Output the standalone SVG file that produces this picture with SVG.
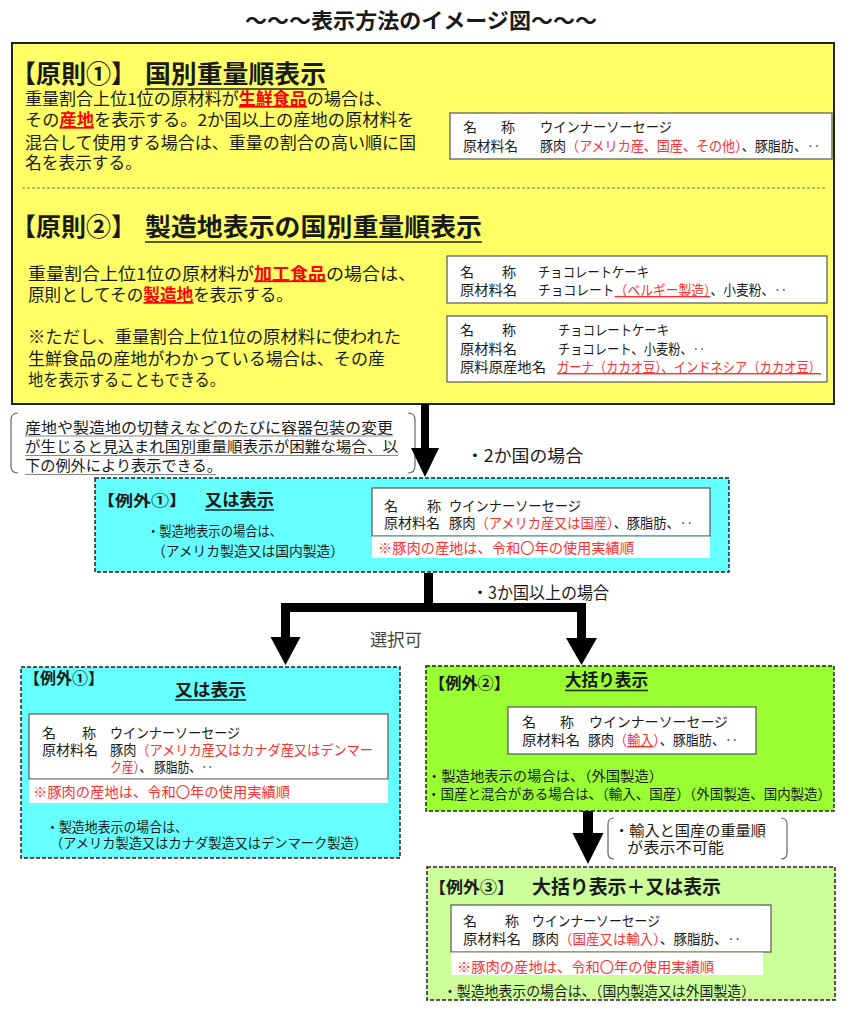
<svg xmlns="http://www.w3.org/2000/svg" width="859" height="1024" viewBox="0 0 859 1024">
<style>
text{font-family:"Noto Sans CJK JP","Noto Sans CJK SC",sans-serif;fill:#1a1a1a}
.t{font-size:21px;font-weight:bold}
.h{font-size:25px;font-weight:bold}
.b{font-size:16.5px}
.s{font-size:14px}
.n{font-size:15px}
.m{font-size:17px}
.hl{fill:#ff0000;font-weight:bold;text-decoration:underline}
.r{fill:#ff3030}
.ru{fill:#ff3030;text-decoration:underline}
.bold{font-weight:bold}
.wbox{fill:#fff;stroke:#555;stroke-width:1.2}
.strip{fill:#fff}
.dash{stroke:#222;stroke-width:1.5;stroke-dasharray:4 2}
.ul{stroke:#222;stroke-width:1.5}
.gul{stroke:#888;stroke-width:1}
.brk{fill:none;stroke:#666;stroke-width:1.2}
.arrow{fill:#000}
</style>

<text class="t" x="245" y="28" textLength="352" lengthAdjust="spacingAndGlyphs">～～～表示方法のイメージ図～～～</text>

<g id="principles">
<rect x="12" y="43" width="822" height="361" fill="#ffff66" stroke="#222" stroke-width="2"/>
<g id="principle1">
<text class="h" x="11" y="83" textLength="125" lengthAdjust="spacingAndGlyphs">【原則①】</text>
<text class="h" x="145" y="83" textLength="181" lengthAdjust="spacingAndGlyphs">国別重量順表示</text>
<line class="ul" x1="145" y1="89" x2="327" y2="89"/>
<text class="b" x="25" y="105" textLength="367" lengthAdjust="spacingAndGlyphs">重量割合上位1位の原材料が<tspan class="hl">生鮮食品</tspan>の場合は、</text>
<text class="b" x="25" y="126" textLength="389" lengthAdjust="spacingAndGlyphs">その<tspan class="hl">産地</tspan>を表示する。2か国以上の産地の原材料を</text>
<text class="b" x="25" y="148.5" textLength="391" lengthAdjust="spacingAndGlyphs">混合して使用する場合は、重量の割合の高い順に国</text>
<text class="b" x="25" y="169" textLength="117" lengthAdjust="spacingAndGlyphs">名を表示する。</text>
<rect class="wbox" x="450" y="113" width="382" height="46"/>
<text class="s" x="463" y="132">名</text>
<text class="s" x="501" y="132">称</text>
<text class="s" x="540" y="132" textLength="132" lengthAdjust="spacingAndGlyphs">ウインナーソーセージ</text>
<text class="s" x="463" y="151" textLength="55" lengthAdjust="spacingAndGlyphs">原材料名</text>
<text class="s" x="540" y="151" textLength="280" lengthAdjust="spacingAndGlyphs">豚肉<tspan class="r">（アメリカ産、国産、その他）</tspan>、豚脂肪、‥</text>
</g>
<line x1="22" y1="188" x2="825" y2="188" stroke="#777" stroke-width="1" stroke-dasharray="3 2"/>
<g id="principle2">
<text class="h" x="11" y="236" textLength="125" lengthAdjust="spacingAndGlyphs">【原則②】</text>
<text class="h" x="145" y="236" textLength="337" lengthAdjust="spacingAndGlyphs">製造地表示の国別重量順表示</text>
<line class="ul" x1="145" y1="242" x2="482" y2="242"/>
<text class="b" x="28" y="279.5" textLength="388" lengthAdjust="spacingAndGlyphs">重量割合上位1位の原材料が<tspan class="hl">加工食品</tspan>の場合は、</text>
<text class="b" x="28" y="301" textLength="265" lengthAdjust="spacingAndGlyphs">原則としてその<tspan class="hl">製造地</tspan>を表示する。</text>
<text class="b" x="28" y="343" textLength="373" lengthAdjust="spacingAndGlyphs">※ただし、重量割合上位1位の原材料に使われた</text>
<text class="b" x="28" y="364.5" textLength="357" lengthAdjust="spacingAndGlyphs">生鮮食品の産地がわかっている場合は、その産</text>
<text class="b" x="28" y="386" textLength="197" lengthAdjust="spacingAndGlyphs">地を表示することもできる。</text>
<rect class="wbox" x="447" y="256" width="380" height="47"/>
<text class="s" x="460" y="277">名</text>
<text class="s" x="502" y="277">称</text>
<text class="s" x="538" y="277" textLength="111" lengthAdjust="spacingAndGlyphs">チョコレートケーキ</text>
<text class="s" x="460" y="295" textLength="57" lengthAdjust="spacingAndGlyphs">原材料名</text>
<text class="s" x="538" y="295" textLength="249" lengthAdjust="spacingAndGlyphs">チョコレート<tspan class="ru">（ベルギー製造）</tspan>、小麦粉、‥</text>
<rect class="wbox" x="447" y="316" width="380" height="66"/>
<text class="s" x="460" y="335">名</text>
<text class="s" x="502" y="335">称</text>
<text class="s" x="558" y="335" textLength="111" lengthAdjust="spacingAndGlyphs">チョコレートケーキ</text>
<text class="s" x="460" y="354" textLength="57" lengthAdjust="spacingAndGlyphs">原材料名</text>
<text class="s" x="558" y="354" textLength="147" lengthAdjust="spacingAndGlyphs">チョコレート、小麦粉、‥</text>
<text class="s" x="460" y="372" textLength="86" lengthAdjust="spacingAndGlyphs">原料原産地名</text>
<text class="s ru" x="557" y="372" textLength="264" lengthAdjust="spacingAndGlyphs">ガーナ（カカオ豆）、インドネシア（カカオ豆）</text>
</g>
</g>

<g id="note1">
<path class="brk" d="M18,413 Q11,413 11,420 V466 Q11,473 18,473"/>
<path class="brk" d="M408,413 Q415,413 415,420 V466 Q415,473 408,473"/>
<text class="n" x="25" y="432.5" textLength="368" lengthAdjust="spacingAndGlyphs" fill="#333">産地や製造地の切替えなどのたびに容器包装の変更</text>
<text class="n" x="25" y="452" textLength="373" lengthAdjust="spacingAndGlyphs">が生じると見込まれ国別重量順表示が困難な場合、以</text>
<text class="n" x="25" y="471" textLength="197" lengthAdjust="spacingAndGlyphs">下の例外により表示できる。</text>
<line class="gul" x1="25" y1="436" x2="393" y2="436"/>
<line class="gul" x1="25" y1="455.5" x2="398" y2="455.5"/>
<line class="gul" x1="25" y1="474.5" x2="216" y2="474.5"/>
</g>

<g id="connectors">
<polygon class="arrow" points="421,404 429,404 429,448 439,448 425,477 411,448 421,448"/>
<path class="arrow" d="M424,573 H433 V603 H586 V638 H597 L581.5,665 L566,638 H577 V612 H290 V637 H300.5 L285.5,665 L270.5,637 H281 V603 H424 Z"/>
<polygon class="arrow" points="583,811 593,811 593,833 603.5,833 588,864 572.5,833 583,833"/>
<text class="m" x="466" y="461.5" textLength="117" lengthAdjust="spacingAndGlyphs">・2か国の場合</text>
<text class="m" x="472" y="598.5" textLength="137" lengthAdjust="spacingAndGlyphs">・3か国以上の場合</text>
<text class="m" x="370" y="646" textLength="52" lengthAdjust="spacingAndGlyphs" style="fill:#444">選択可</text>
</g>

<g id="exception1-two">
<rect class="dash" x="95" y="478" width="634" height="94" fill="#66ffff"/>
<text class="bold" x="97" y="505.5" font-size="15" textLength="90" lengthAdjust="spacingAndGlyphs">【例外①】</text>
<text class="m bold" x="205" y="506" textLength="69" lengthAdjust="spacingAndGlyphs">又は表示</text>
<line class="ul" x1="205" y1="510" x2="274" y2="510"/>
<text class="s" x="147" y="535.5" textLength="135" lengthAdjust="spacingAndGlyphs">・製造地表示の場合は、</text>
<text class="s" x="152" y="555.5" textLength="192" lengthAdjust="spacingAndGlyphs">（アメリカ製造又は国内製造）</text>
<rect class="wbox" x="372" y="488" width="338" height="48"/>
<rect class="strip" x="372" y="536.6" width="338" height="21.4"/>
<text class="s" x="384" y="511">名</text>
<text class="s" x="427" y="511">称</text>
<text class="s" x="449" y="511" textLength="132" lengthAdjust="spacingAndGlyphs">ウインナーソーセージ</text>
<text class="s" x="384" y="528" textLength="56" lengthAdjust="spacingAndGlyphs">原材料名</text>
<text class="s" x="449" y="528" textLength="244" lengthAdjust="spacingAndGlyphs">豚肉<tspan class="r">（アメリカ産又は国産）</tspan>、豚脂肪、‥</text>
<text class="s r" x="378" y="553" textLength="256" lengthAdjust="spacingAndGlyphs">※豚肉の産地は、令和〇年の使用実績順</text>
</g>

<g id="exception1-three">
<rect class="dash" x="21" y="667" width="379" height="191" fill="#66ffff"/>
<text class="bold" x="24" y="684" font-size="15.5" textLength="80" lengthAdjust="spacingAndGlyphs">【例外①】</text>
<text class="m bold" x="175" y="696" textLength="71" lengthAdjust="spacingAndGlyphs">又は表示</text>
<line class="ul" x1="175" y1="700" x2="246" y2="700"/>
<rect class="wbox" x="29" y="714" width="359" height="65"/>
<rect class="strip" x="29" y="779.6" width="359" height="23.4"/>
<text class="s" x="42" y="738">名</text>
<text class="s" x="82" y="738">称</text>
<text class="s" x="110" y="738" textLength="130" lengthAdjust="spacingAndGlyphs">ウインナーソーセージ</text>
<text class="s" x="42" y="755" textLength="56" lengthAdjust="spacingAndGlyphs">原材料名</text>
<text class="s" x="110" y="755" textLength="263" lengthAdjust="spacingAndGlyphs">豚肉<tspan class="r">（アメリカ産又はカナダ産又はデンマー</tspan></text>
<text class="s" x="110" y="772" textLength="103" lengthAdjust="spacingAndGlyphs"><tspan class="r">ク産）</tspan>、 豚脂肪、‥</text>
<text class="s r" x="33" y="797" textLength="257" lengthAdjust="spacingAndGlyphs">※豚肉の産地は、令和〇年の使用実績順</text>
<text x="46" y="831.5" font-size="13.5" textLength="142" lengthAdjust="spacingAndGlyphs">・製造地表示の場合は、</text>
<text x="50" y="847.5" font-size="13.5" textLength="317" lengthAdjust="spacingAndGlyphs">（アメリカ製造又はカナダ製造又はデンマーク製造）</text>
</g>

<g id="exception2">
<rect class="dash" x="426" y="666" width="408" height="145" fill="#99ff33"/>
<text class="bold" x="429" y="689" font-size="15.5" textLength="81" lengthAdjust="spacingAndGlyphs">【例外②】</text>
<text class="m bold" x="565" y="686" textLength="83" lengthAdjust="spacingAndGlyphs">大括り表示</text>
<line class="ul" x1="565" y1="690.5" x2="648" y2="690.5"/>
<rect class="wbox" x="508" y="707" width="248" height="47"/>
<text class="s" x="522" y="727">名</text>
<text class="s" x="560" y="727">称</text>
<text class="s" x="589" y="727" textLength="139" lengthAdjust="spacingAndGlyphs">ウインナーソーセージ</text>
<text class="s" x="522" y="745" textLength="58" lengthAdjust="spacingAndGlyphs">原材料名</text>
<text class="s" x="588" y="745" textLength="150" lengthAdjust="spacingAndGlyphs">豚肉<tspan class="r">（</tspan><tspan class="ru">輸入</tspan><tspan class="r">）</tspan>、豚脂肪、‥</text>
<text class="s" x="427" y="780.5" textLength="236" lengthAdjust="spacingAndGlyphs">・製造地表示の場合は、（外国製造）</text>
<text class="s" x="427" y="798.5" textLength="404" lengthAdjust="spacingAndGlyphs">・国産と混合がある場合は、（輸入、国産）（外国製造、国内製造）</text>
</g>

<g id="note2">
<path class="brk" d="M614,818 Q608,818 608,824 V853 Q608,859 614,859"/>
<path class="brk" d="M781,818 Q787,818 787,824 V853 Q787,859 781,859"/>
<text x="614" y="835.5" font-size="14.5" textLength="152" lengthAdjust="spacingAndGlyphs">・輸入と国産の重量順</text>
<text x="627" y="853" font-size="14.5" textLength="97" lengthAdjust="spacingAndGlyphs">が表示不可能</text>
</g>

<g id="exception3">
<rect class="dash" x="427" y="867" width="408" height="133" fill="#ccff99"/>
<text class="bold" x="429" y="893" font-size="16" textLength="85" lengthAdjust="spacingAndGlyphs">【例外③】</text>
<text class="bold" x="532" y="894" font-size="19" textLength="189" lengthAdjust="spacingAndGlyphs">大括り表示＋又は表示</text>
<rect class="wbox" x="451" y="905" width="320" height="47"/>
<rect class="strip" x="451" y="952.6" width="312" height="22.4"/>
<text class="s" x="463" y="926">名</text>
<text class="s" x="505" y="926">称</text>
<text class="s" x="532" y="926" textLength="128" lengthAdjust="spacingAndGlyphs">ウインナーソーセージ</text>
<text class="s" x="463" y="944" textLength="58" lengthAdjust="spacingAndGlyphs">原材料名</text>
<text class="s" x="532" y="944" textLength="209" lengthAdjust="spacingAndGlyphs">豚肉<tspan class="r">（国産又は輸入）</tspan>、豚脂肪、‥</text>
<text class="s r" x="457" y="972" textLength="257" lengthAdjust="spacingAndGlyphs">※豚肉の産地は、令和〇年の使用実績順</text>
<text class="s" x="443" y="995.5" textLength="312" lengthAdjust="spacingAndGlyphs">・製造地表示の場合は、（国内製造又は外国製造）</text>
</g>
</svg>
